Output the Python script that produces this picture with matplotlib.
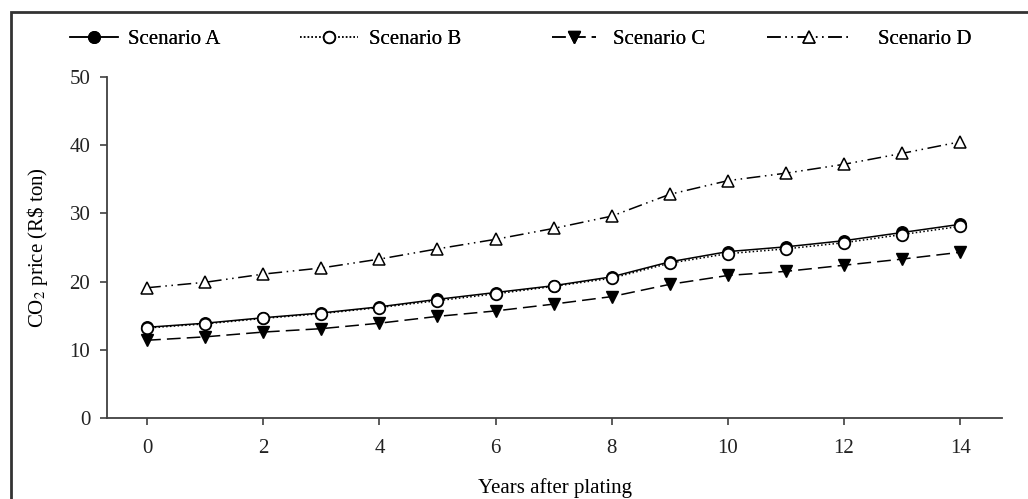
import matplotlib
matplotlib.use('Agg')
from matplotlib import pyplot as plt
from matplotlib.patches import Rectangle

plt.rcParams['font.family'] = ['Liberation Serif', 'DejaVu Serif']
plt.rcParams['font.size'] = 15
plt.rcParams['mathtext.fontset'] = 'stix'

years = list(range(15))
scen_a = [13.3, 13.9, 14.7, 15.4, 16.3, 17.4, 18.4, 19.4, 20.7, 22.9, 24.4, 25.1, 26.0, 27.2, 28.4]
scen_b = [13.2, 13.8, 14.6, 15.3, 16.2, 17.2, 18.2, 19.3, 20.5, 22.7, 24.1, 24.8, 25.7, 26.9, 28.1]
scen_c = [11.4, 11.9, 12.6, 13.1, 13.9, 14.9, 15.7, 16.7, 17.8, 19.6, 20.9, 21.5, 22.4, 23.3, 24.3]
scen_d = [19.1, 19.9, 21.1, 22.0, 23.3, 24.8, 26.2, 27.8, 29.6, 32.8, 34.8, 35.9, 37.2, 38.8, 40.5]
labels = ['Scenario A', 'Scenario B', 'Scenario C', 'Scenario D']

W, H = 1028, 499
fig = plt.figure(figsize=(W / 100, H / 100), dpi=100)
ax = fig.add_axes([107 / W, 1 - 418 / H, (1002 - 107) / W, (418 - 77) / H])

ms = 8.3
lw = 1.1
h_a, = ax.plot(years, scen_a, color='black', lw=lw, ls='-', marker='o', ms=ms,
               mfc='black', mec='black', label=labels[0])
h_b, = ax.plot(years, scen_b, color='black', lw=lw, ls=(0, (1, 1.5)), marker='o', ms=ms,
               mfc='white', mec='black', mew=1.3, label=labels[1])
h_c, = ax.plot(years, scen_c, color='black', lw=lw, ls=(0, (9, 4)), marker='v', ms=ms,
               mfc='black', mec='black', label=labels[2])
h_d, = ax.plot(years, scen_d, color='black', lw=lw, ls=(0, (9, 3, 1, 3, 1, 3)), marker='^', ms=ms,
               mfc='white', mec='black', mew=1.1, label=labels[3])

ax.set_xlim(-0.69, 14.72)
ax.set_ylim(0, 50)
ax.set_xticks(range(0, 15, 2))
ax.set_yticks(range(0, 51, 10))
for s in ['top', 'right']:
    ax.spines[s].set_visible(False)
for s in ['left', 'bottom']:
    ax.spines[s].set_color('#404040')
    ax.spines[s].set_linewidth(1.3)
ax.tick_params(direction='out', length=5, width=1.2, color='#404040', labelcolor='#222222')
ax.tick_params(axis='x', pad=10)
ax.tick_params(axis='y', pad=7)

ax.set_xlabel('Years after plating')
ax.xaxis.set_label_coords(0.5, -0.175)
ax.set_ylabel('CO$_2$ price (R\\$ ton)', labelpad=14)

# legend entries spread along the top
handles = [h_a, h_b, h_c, h_d]
starts = [70, 300, 552, 767]
hlens = [2.3, 2.8, 2.1, 4.0]
tpads = [0.5, 0.5, 0.85, 1.35]
for h, x0, hl, tp in zip(handles, starts, hlens, tpads):
    leg = fig.legend(handles=[h], loc='center left', bbox_to_anchor=(x0 / W, 1 - 39 / H),
                     frameon=False, borderpad=0, borderaxespad=0, handlelength=hl,
                     handletextpad=tp, numpoints=1, fontsize=15)
    fig.add_artist(leg)

frame = Rectangle((11 / W, -0.1), 1.5, (1 - 12 / H) + 0.1, transform=fig.transFigure,
                  fill=False, lw=2, edgecolor='#333333', clip_on=False)
fig.add_artist(frame)

fig.savefig('out.png', dpi=100)
